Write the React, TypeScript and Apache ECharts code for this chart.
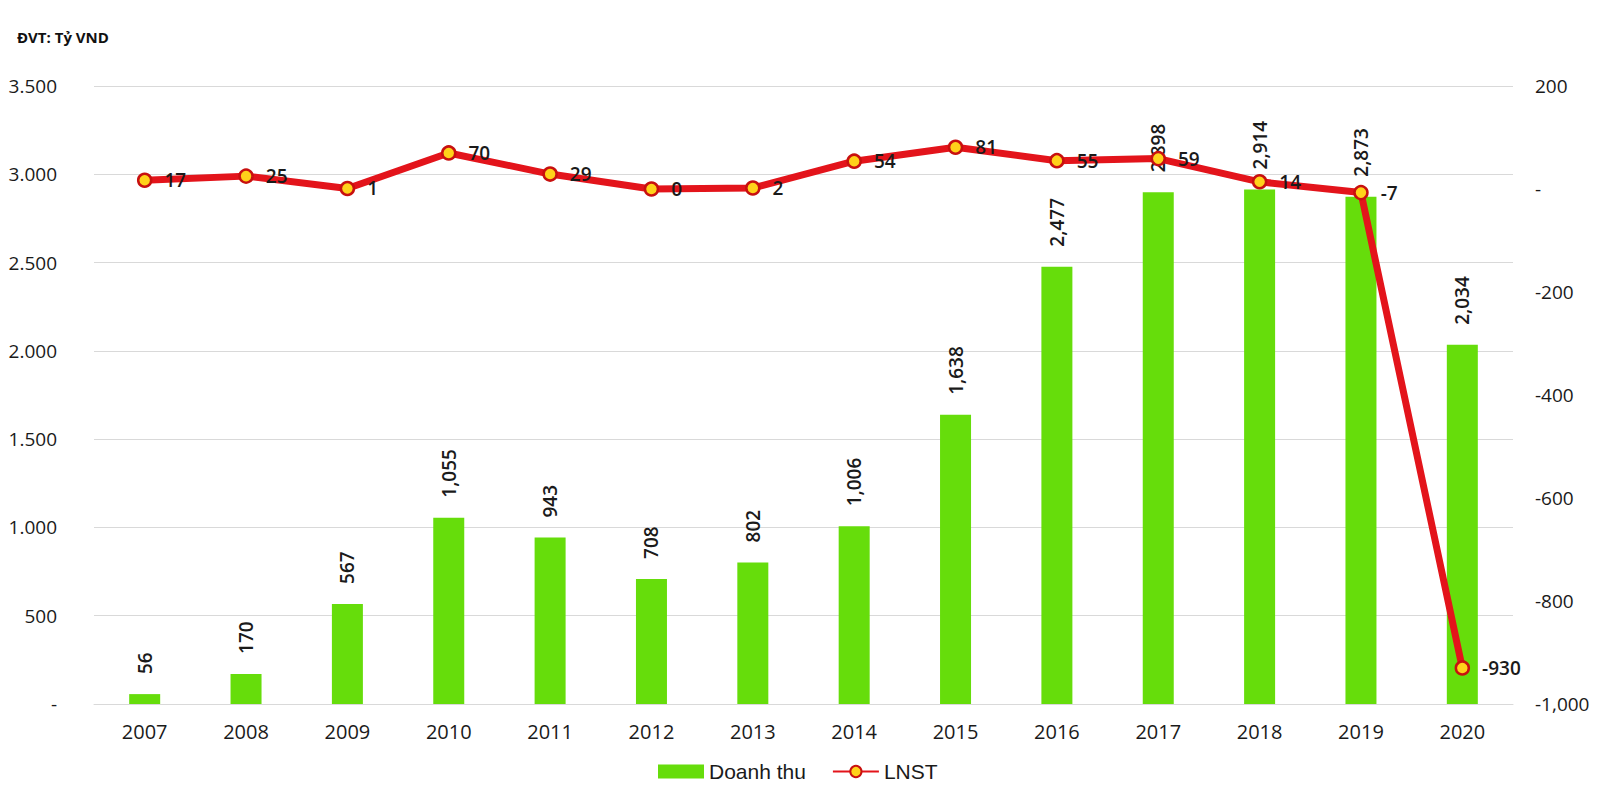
import React, { useEffect, useRef } from "react";
import * as echarts from "echarts";

const years = ["2007", "2008", "2009", "2010", "2011", "2012", "2013", "2014", "2015", "2016", "2017", "2018", "2019", "2020"];
const revenue = [56, 170, 567, 1055, 943, 708, 802, 1006, 1638, 2477, 2898, 2914, 2873, 2034];
const profit = [17, 25, 1, 70, 29, 0, 2, 54, 81, 55, 59, 14, -7, -930];
const unitLabel = "ĐVT: Tỷ VND";
const revenueName = "Doanh thu";
const profitName = "LNST";

const FONT = "'Open Sans', 'Noto Sans', sans-serif";

export default function App() {
  const ref = useRef<HTMLDivElement>(null);
  useEffect(() => {
    document.body.style.margin = "0";
    const chart = echarts.init(ref.current!, undefined, { renderer: "svg" });
    chart.setOption({
      animation: false,
      backgroundColor: "#ffffff",
      textStyle: { fontFamily: FONT },
      title: {
        text: unitLabel,
        left: 12,
        top: 24,
        textStyle: { fontSize: 15, fontWeight: "bold", color: "#111", fontFamily: FONT },
      },
      grid: { left: 94, right: 87, top: 86, bottom: 89, containLabel: false },
      legend: {
        bottom: 6,
        left: 653,
        itemWidth: 46,
        itemHeight: 14,
        itemGap: 26,
        textStyle: { fontSize: 21, color: "#1a1a1a", fontFamily: "'Liberation Sans', Arial, sans-serif" },
        data: [
          { name: revenueName, icon: "rect" },
          { name: profitName },
        ],
      },
      xAxis: {
        type: "category",
        data: years,
        axisTick: { show: false },
        axisLine: { show: true, onZero: false, lineStyle: { color: "#d9d9d9", width: 1 } },
        axisLabel: { fontSize: 20, color: "#1a1a1a", margin: 17, fontFamily: FONT },
      },
      yAxis: [
        {
          type: "value",
          min: 0,
          max: 3500,
          interval: 500,
          position: "left",
          axisLine: { show: false },
          axisTick: { show: false },
          splitLine: { show: true, lineStyle: { color: "#d9d9d9", width: 1 } },
          axisLabel: {
            fontSize: 19,
            color: "#1a1a1a",
            margin: 37,
            fontFamily: FONT,
            formatter: (v: number) => (v === 0 ? "-" : v.toLocaleString("de-DE")),
          },
        },
        {
          type: "value",
          min: -1000,
          max: 200,
          interval: 200,
          position: "right",
          axisLine: { show: false },
          axisTick: { show: false },
          splitLine: { show: false },
          axisLabel: {
            fontSize: 19,
            color: "#1a1a1a",
            margin: 22,
            fontFamily: FONT,
            formatter: (v: number) => (v === 0 ? "-" : v.toLocaleString("en-US")),
          },
        },
      ],
      series: [
        {
          name: revenueName,
          type: "bar",
          yAxisIndex: 0,
          data: revenue,
          barWidth: 31,
          itemStyle: { color: "#66dd0b" },
          label: {
            show: true,
            position: "top",
            rotate: 90,
            align: "left",
            verticalAlign: "middle",
            distance: 20,
            fontSize: 19,
            fontWeight: 600,
            color: "#1a1a1a",
            fontFamily: FONT,
            formatter: (p: any) => Number(p.value).toLocaleString("en-US"),
          },
        },
        {
          name: profitName,
          type: "line",
          yAxisIndex: 1,
          data: profit,
          symbol: "circle",
          symbolSize: 13,
          lineStyle: { color: "#e3141b", width: 7 },
          itemStyle: { color: "#ffd21a", borderColor: "#c8100f", borderWidth: 2.5 },
          z: 5,
          label: {
            show: true,
            position: "right",
            distance: 12,
            fontSize: 19,
            fontWeight: 600,
            color: "#1a1a1a",
            fontFamily: FONT,
          },
        },
      ],
    });
    return () => chart.dispose();
  }, []);
  return <div ref={ref} style={{ position: "absolute", left: 0, top: 0, width: 1600, height: 793 }} />;
}
